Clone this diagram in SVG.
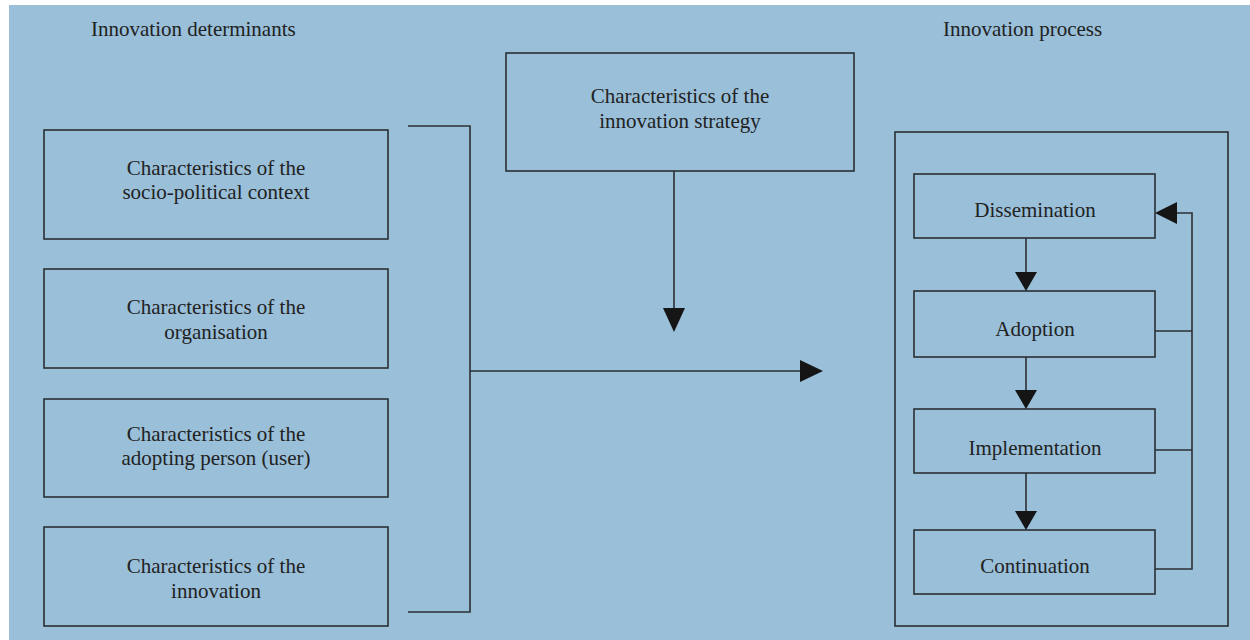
<svg xmlns="http://www.w3.org/2000/svg" width="1250" height="640" viewBox="0 0 1250 640">
<defs>
<style>
.bg{fill:#99bfd9}
.box{fill:none;stroke:#2b2f33;stroke-width:1.6}
.ln{fill:none;stroke:#2b2f33;stroke-width:1.6}
.ah{fill:#151515}
text{font-family:"Liberation Serif","Times New Roman",serif;font-size:21px;fill:#222}
.c{text-anchor:middle}
</style>
</defs>
<rect x="0" y="0" width="1250" height="640" fill="#ffffff"/>
<rect class="bg" x="9" y="5" width="1241" height="635"/>
<text x="91" y="36">Innovation determinants</text>
<text x="943" y="36">Innovation process</text>
<g id="n-socio"><rect class="box" x="44" y="130" width="344" height="109"/><text class="c" x="216" y="175">Characteristics of the</text><text class="c" x="216" y="199">socio-political context</text></g>
<g id="n-org"><rect class="box" x="44" y="269" width="344" height="99"/><text class="c" x="216" y="314">Characteristics of the</text><text class="c" x="216" y="339">organisation</text></g>
<g id="n-user"><rect class="box" x="44" y="399" width="344" height="98"/><text class="c" x="216" y="441">Characteristics of the</text><text class="c" x="216" y="465">adopting person (user)</text></g>
<g id="n-innov"><rect class="box" x="44" y="527" width="344" height="99"/><text class="c" x="216" y="573">Characteristics of the</text><text class="c" x="216" y="598">innovation</text></g>
<g id="n-strategy"><rect class="box" x="506" y="53" width="348" height="118"/><text class="c" x="680" y="103">Characteristics of the</text><text class="c" x="680" y="128">innovation strategy</text></g>
<g id="n-process"><rect class="box" x="895" y="132" width="333" height="494"/></g>
<g id="n-diss"><rect class="box" x="914" y="174" width="241" height="64"/><text class="c" x="1035" y="217">Dissemination</text></g>
<g id="n-adop"><rect class="box" x="914" y="291" width="241" height="66"/><text class="c" x="1035" y="336">Adoption</text></g>
<g id="n-impl"><rect class="box" x="914" y="409" width="241" height="64"/><text class="c" x="1035" y="455">Implementation</text></g>
<g id="n-cont"><rect class="box" x="914" y="530" width="241" height="64"/><text class="c" x="1035" y="573">Continuation</text></g>
<g id="connectors">
<polyline class="ln" points="408,126 470,126 470,612 408,612"/>
<line class="ln" x1="470" y1="371" x2="802" y2="371"/>
<polygon class="ah" points="800,360 823,371 800,382"/>
<line class="ln" x1="674" y1="171" x2="674" y2="310"/>
<polygon class="ah" points="663,308 685,308 674,332"/>
<line class="ln" x1="1026" y1="238" x2="1026" y2="274"/>
<polygon class="ah" points="1015,272 1037,272 1026,291"/>
<line class="ln" x1="1026" y1="357" x2="1026" y2="392"/>
<polygon class="ah" points="1015,390 1037,390 1026,409"/>
<line class="ln" x1="1026" y1="473" x2="1026" y2="513"/>
<polygon class="ah" points="1015,511 1037,511 1026,530"/>
<polyline class="ln" points="1155,569 1192,569 1192,213 1175,213"/>
<line class="ln" x1="1155" y1="331" x2="1192" y2="331"/>
<line class="ln" x1="1155" y1="450" x2="1192" y2="450"/>
<polygon class="ah" points="1177,202 1155,213 1177,224"/>
</g>
</svg>
